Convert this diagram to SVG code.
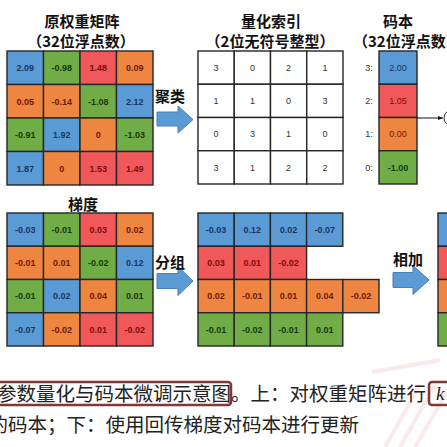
<svg xmlns="http://www.w3.org/2000/svg" width="447" height="447" viewBox="0 0 447 447">
<style>
.bg{fill:#ffffff}
.title{font-family:"Noto Sans CJK SC","Noto Sans",sans-serif;font-weight:bold;font-size:15px;fill:#111;text-anchor:middle;dominant-baseline:central}
.op{font-family:"Noto Sans CJK SC","Noto Sans",sans-serif;font-weight:bold;font-size:15px;fill:#111;dominant-baseline:central}
.cell{stroke:#262626;stroke-width:1.4}
.b{fill:#5b9bd5}.g{fill:#70ad47}.r{fill:#f0585a}.o{fill:#ee8540}
.w{fill:#ffffff}
.n{font-family:"Liberation Sans",Arial,sans-serif;font-weight:bold;font-size:9px;text-anchor:middle;dominant-baseline:central}
.tb{fill:#1c3560}.tg{fill:#173a0c}.tr{fill:#7e0c0c}.to{fill:#6e1a05}
.ti{font-family:"Liberation Sans",Arial,sans-serif;font-size:9px;fill:#333;text-anchor:middle;dominant-baseline:central}
.arrow{fill:#5b9bd5;stroke:#4a7fb2;stroke-width:1}
.cap{font-family:"Noto Sans CJK SC","Noto Sans",sans-serif;font-size:19.5px;fill:#222}
.box{fill:none;stroke:#833838;stroke-width:2.5}
</style>
<defs>
<marker id="ah" viewBox="0 0 10 10" refX="10" refY="5" markerWidth="5" markerHeight="5" orient="auto"><path d="M0,1 L10,5 L0,9 z" fill="#111"/></marker>
</defs>
<rect class="bg" x="0" y="0" width="447" height="447"/>

<!-- watermark -->
<g id="watermark" stroke="#e06060" stroke-opacity="0.13" stroke-width="4" fill="none">
<path d="M385,447 L420,385"/>
<path d="M400,447 L435,385"/>
<path d="M415,447 L447,392"/>
<path d="M372,372 L440,360"/>
</g>

<!-- titles -->
<g id="titles">
<text class="title" x="82" y="20">原权重矩阵</text>
<text class="title" x="81" y="40">（32位浮点数）</text>
<text class="title" x="271" y="20">量化索引</text>
<text class="title" x="270" y="40">（2位无符号整型）</text>
<text class="title" x="398" y="20">码本</text>
<text class="title" x="353" y="40" style="text-anchor:start">（32位浮点数）</text>
<text class="title" x="83" y="203">梯度</text>
</g>

<!-- weight matrix -->
<g id="weights">
<rect class="cell b" x="7" y="51" width="36.5" height="33.5"/>
<rect class="cell g" x="43.5" y="51" width="36.5" height="33.5"/>
<rect class="cell r" x="80" y="51" width="36.5" height="33.5"/>
<rect class="cell o" x="116.5" y="51" width="36.5" height="33.5"/>
<rect class="cell o" x="7" y="84.5" width="36.5" height="33.5"/>
<rect class="cell o" x="43.5" y="84.5" width="36.5" height="33.5"/>
<rect class="cell g" x="80" y="84.5" width="36.5" height="33.5"/>
<rect class="cell b" x="116.5" y="84.5" width="36.5" height="33.5"/>
<rect class="cell g" x="7" y="118" width="36.5" height="33.5"/>
<rect class="cell b" x="43.5" y="118" width="36.5" height="33.5"/>
<rect class="cell o" x="80" y="118" width="36.5" height="33.5"/>
<rect class="cell g" x="116.5" y="118" width="36.5" height="33.5"/>
<rect class="cell b" x="7" y="151.5" width="36.5" height="33.5"/>
<rect class="cell o" x="43.5" y="151.5" width="36.5" height="33.5"/>
<rect class="cell r" x="80" y="151.5" width="36.5" height="33.5"/>
<rect class="cell r" x="116.5" y="151.5" width="36.5" height="33.5"/>
<text class="n tb" x="25.25" y="68">2.09</text>
<text class="n tg" x="61.75" y="68">-0.98</text>
<text class="n tr" x="98.25" y="68">1.48</text>
<text class="n to" x="134.75" y="68">0.09</text>
<text class="n to" x="25.25" y="101.5">0.05</text>
<text class="n to" x="61.75" y="101.5">-0.14</text>
<text class="n tg" x="98.25" y="101.5">-1.08</text>
<text class="n tb" x="134.75" y="101.5">2.12</text>
<text class="n tg" x="25.25" y="135">-0.91</text>
<text class="n tb" x="61.75" y="135">1.92</text>
<text class="n to" x="98.25" y="135">0</text>
<text class="n tg" x="134.75" y="135">-1.03</text>
<text class="n tb" x="25.25" y="168.5">1.87</text>
<text class="n to" x="61.75" y="168.5">0</text>
<text class="n tr" x="98.25" y="168.5">1.53</text>
<text class="n tr" x="134.75" y="168.5">1.49</text>
</g>

<!-- index matrix -->
<g id="indices">
<rect class="cell w" x="198" y="51" width="36.25" height="33.25"/>
<rect class="cell w" x="234.25" y="51" width="36.25" height="33.25"/>
<rect class="cell w" x="270.5" y="51" width="36.25" height="33.25"/>
<rect class="cell w" x="306.75" y="51" width="36.25" height="33.25"/>
<rect class="cell w" x="198" y="84.25" width="36.25" height="33.25"/>
<rect class="cell w" x="234.25" y="84.25" width="36.25" height="33.25"/>
<rect class="cell w" x="270.5" y="84.25" width="36.25" height="33.25"/>
<rect class="cell w" x="306.75" y="84.25" width="36.25" height="33.25"/>
<rect class="cell w" x="198" y="117.5" width="36.25" height="33.25"/>
<rect class="cell w" x="234.25" y="117.5" width="36.25" height="33.25"/>
<rect class="cell w" x="270.5" y="117.5" width="36.25" height="33.25"/>
<rect class="cell w" x="306.75" y="117.5" width="36.25" height="33.25"/>
<rect class="cell w" x="198" y="150.75" width="36.25" height="33.25"/>
<rect class="cell w" x="234.25" y="150.75" width="36.25" height="33.25"/>
<rect class="cell w" x="270.5" y="150.75" width="36.25" height="33.25"/>
<rect class="cell w" x="306.75" y="150.75" width="36.25" height="33.25"/>
<text class="ti" x="216" y="68">3</text><text class="ti" x="252.5" y="68">0</text><text class="ti" x="288.5" y="68">2</text><text class="ti" x="325" y="68">1</text>
<text class="ti" x="216" y="101">1</text><text class="ti" x="252.5" y="101">1</text><text class="ti" x="288.5" y="101">0</text><text class="ti" x="325" y="101">3</text>
<text class="ti" x="216" y="134">0</text><text class="ti" x="252.5" y="134">3</text><text class="ti" x="288.5" y="134">1</text><text class="ti" x="325" y="134">0</text>
<text class="ti" x="216" y="167.5">3</text><text class="ti" x="252.5" y="167.5">1</text><text class="ti" x="288.5" y="167.5">2</text><text class="ti" x="325" y="167.5">2</text>
</g>

<!-- codebook -->
<g id="codebook">
<rect class="cell b" x="379" y="51" width="38" height="33.25"/>
<rect class="cell r" x="379" y="84.25" width="38" height="33.25"/>
<rect class="cell o" x="379" y="117.5" width="38" height="33.25"/>
<rect class="cell g" x="379" y="150.75" width="38" height="33.25"/>
<text class="n tb" x="398" y="68" style="font-weight:normal">2.00</text>
<text class="n tr" x="398" y="101" style="font-weight:normal">1.05</text>
<text class="n to" x="398" y="134" style="font-weight:normal">0.00</text>
<text class="n tg" x="398" y="167.5">-1.00</text>
<text class="ti" x="369" y="68">3:</text>
<text class="ti" x="369" y="101">2:</text>
<text class="ti" x="369" y="134">1:</text>
<text class="ti" x="369" y="167.5">0:</text>
</g>

<!-- gradient matrix -->
<g id="gradients">
<rect class="cell b" x="7" y="213" width="36.5" height="33.25"/>
<rect class="cell g" x="43.5" y="213" width="36.5" height="33.25"/>
<rect class="cell r" x="80" y="213" width="36.5" height="33.25"/>
<rect class="cell o" x="116.5" y="213" width="36.5" height="33.25"/>
<rect class="cell o" x="7" y="246.25" width="36.5" height="33.25"/>
<rect class="cell o" x="43.5" y="246.25" width="36.5" height="33.25"/>
<rect class="cell g" x="80" y="246.25" width="36.5" height="33.25"/>
<rect class="cell b" x="116.5" y="246.25" width="36.5" height="33.25"/>
<rect class="cell g" x="7" y="279.5" width="36.5" height="33.25"/>
<rect class="cell b" x="43.5" y="279.5" width="36.5" height="33.25"/>
<rect class="cell o" x="80" y="279.5" width="36.5" height="33.25"/>
<rect class="cell g" x="116.5" y="279.5" width="36.5" height="33.25"/>
<rect class="cell b" x="7" y="312.75" width="36.5" height="33.25"/>
<rect class="cell o" x="43.5" y="312.75" width="36.5" height="33.25"/>
<rect class="cell r" x="80" y="312.75" width="36.5" height="33.25"/>
<rect class="cell r" x="116.5" y="312.75" width="36.5" height="33.25"/>
<text class="n tb" x="25.25" y="230">-0.03</text>
<text class="n tg" x="61.75" y="230">-0.01</text>
<text class="n tr" x="98.25" y="230">0.03</text>
<text class="n to" x="134.75" y="230">0.02</text>
<text class="n to" x="25.25" y="263">-0.01</text>
<text class="n to" x="61.75" y="263">0.01</text>
<text class="n tg" x="98.25" y="263">-0.02</text>
<text class="n tb" x="134.75" y="263">0.12</text>
<text class="n tg" x="25.25" y="296">-0.01</text>
<text class="n tb" x="61.75" y="296">0.02</text>
<text class="n to" x="98.25" y="296">0.04</text>
<text class="n tg" x="134.75" y="296">0.01</text>
<text class="n tb" x="25.25" y="329.5">-0.07</text>
<text class="n to" x="61.75" y="329.5">-0.02</text>
<text class="n tr" x="98.25" y="329.5">0.01</text>
<text class="n tr" x="134.75" y="329.5">-0.02</text>
</g>

<!-- grouped gradients -->
<g id="grouped">
<rect class="cell b" x="198" y="213" width="36.2" height="33.25"/>
<rect class="cell b" x="234.2" y="213" width="36.2" height="33.25"/>
<rect class="cell b" x="270.4" y="213" width="36.2" height="33.25"/>
<rect class="cell b" x="306.6" y="213" width="36.2" height="33.25"/>
<rect class="cell r" x="198" y="246.25" width="36.2" height="33.25"/>
<rect class="cell r" x="234.2" y="246.25" width="36.2" height="33.25"/>
<rect class="cell r" x="270.4" y="246.25" width="36.2" height="33.25"/>
<rect class="cell o" x="198" y="279.5" width="36.2" height="33.25"/>
<rect class="cell o" x="234.2" y="279.5" width="36.2" height="33.25"/>
<rect class="cell o" x="270.4" y="279.5" width="36.2" height="33.25"/>
<rect class="cell o" x="306.6" y="279.5" width="36.2" height="33.25"/>
<rect class="cell o" x="342.8" y="279.5" width="36.2" height="33.25"/>
<rect class="cell g" x="198" y="312.75" width="36.2" height="33.25"/>
<rect class="cell g" x="234.2" y="312.75" width="36.2" height="33.25"/>
<rect class="cell g" x="270.4" y="312.75" width="36.2" height="33.25"/>
<rect class="cell g" x="306.6" y="312.75" width="36.2" height="33.25"/>
<text class="n tb" x="216.1" y="230">-0.03</text>
<text class="n tb" x="252.3" y="230">0.12</text>
<text class="n tb" x="288.5" y="230">0.02</text>
<text class="n tb" x="324.7" y="230">-0.07</text>
<text class="n tr" x="216.1" y="263">0.03</text>
<text class="n tr" x="252.3" y="263">0.01</text>
<text class="n tr" x="288.5" y="263">-0.02</text>
<text class="n to" x="216.1" y="296">0.02</text>
<text class="n to" x="252.3" y="296">-0.01</text>
<text class="n to" x="288.5" y="296">0.01</text>
<text class="n to" x="324.7" y="296">0.04</text>
<text class="n to" x="360.9" y="296">-0.02</text>
<text class="n tg" x="216.1" y="329.5">-0.01</text>
<text class="n tg" x="252.3" y="329.5">-0.02</text>
<text class="n tg" x="288.5" y="329.5">-0.01</text>
<text class="n tg" x="324.7" y="329.5">0.01</text>
</g>

<!-- partial result column at right edge -->
<g id="result">
<rect class="cell b" x="438" y="213" width="38" height="33.25"/>
<rect class="cell r" x="438" y="246.25" width="38" height="33.25"/>
<rect class="cell o" x="438" y="279.5" width="38" height="33.25"/>
<rect class="cell g" x="438" y="312.75" width="38" height="33.25"/>
<text class="n tg" x="457" y="329.5">-0.97</text>
</g>

<!-- partial operator circle -->
<g id="op-circle">
<circle cx="452" cy="118" r="8" fill="#fff" stroke="#333" stroke-width="1"/>
</g>

<!-- connectors -->
<g id="connectors">
<path class="arrow" d="M157,112 L178,112 L178,106 L193,119.5 L178,133 L178,126 L157,126 Z"/>
<text class="op" x="155" y="95">聚类</text>
<path class="arrow" d="M157,273.5 L178,273.5 L178,266.5 L193,281 L178,295.5 L178,288.5 L157,288.5 Z"/>
<text class="op" x="155" y="261">分组</text>
<path class="arrow" d="M393,272.5 L413,272.5 L413,265.5 L429,280 L413,294.5 L413,287.5 L393,287.5 Z"/>
<text class="op" x="393" y="258">相加</text>
<line x1="417" y1="118" x2="443" y2="118" stroke="#111" stroke-width="1" marker-end="url(#ah)"/>
</g>

<!-- caption -->
<g id="caption">
<rect class="box" x="-6" y="382" width="237" height="23" rx="3"/>
<rect class="box" x="429" y="382" width="30" height="23" rx="3"/>
<text class="cap" x="-3" y="401">参数量化与码本微调示意图</text>
<text class="cap" x="231" y="401">。上：对权重矩阵进行</text>
<text x="436" y="400" style="font-family:'Liberation Serif',serif;font-style:italic;font-size:19px;fill:#222">k</text>
<text class="cap" x="-11.5" y="432">的码本；下：使用回传梯度对码本进行更新</text>
</g>
</svg>
